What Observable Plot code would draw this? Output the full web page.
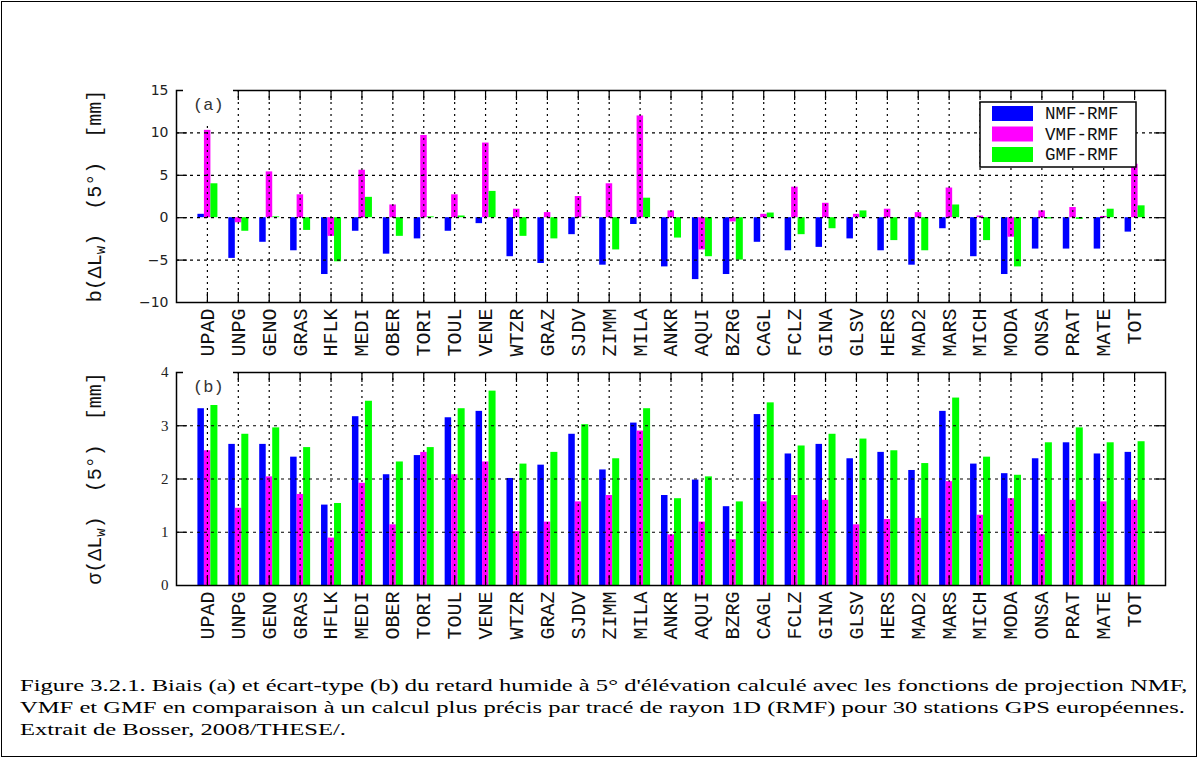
<!DOCTYPE html>
<html><head><meta charset="utf-8">
<script src="https://cdn.jsdelivr.net/npm/d3@7"></script>
<script src="https://cdn.jsdelivr.net/npm/@observablehq/plot@0.6"></script>
<style>
body{margin:0;background:#fff;}
#fig{position:relative;width:1200px;height:760px;overflow:hidden;background:#fff;}
#border{position:absolute;left:1px;top:1px;width:1196px;height:756px;border:1.5px solid #000;box-sizing:border-box;}
.abs{position:absolute;left:0;}
</style></head><body><div id="fig"><div id="border"></div></div>
<script>
// ---- data ----
const stations = ["UPAD","UNPG","GENO","GRAS","HFLK","MEDI","OBER","TORI","TOUL","VENE","WTZR","GRAZ","SJDV","ZIMM","MILA","ANKR","AQUI","BZRG","CAGL","FCLZ","GINA","GLSV","HERS","MAD2","MARS","MICH","MODA","ONSA","PRAT","MATE","TOT"];
const seriesNames = ["NMF-RMF","VMF-RMF","GMF-RMF"];
const seriesColors = ["#0000ff","#ff00ff","#00ff00"];
// (a) bias b(ΔLw) at 5°, mm
const biasNMF = [0.4,-4.8,-2.9,-3.9,-6.7,-1.6,-4.3,-2.5,-1.6,-0.7,-4.6,-5.4,-2.0,-5.6,-0.8,-5.8,-7.3,-6.7,-2.9,-3.9,-3.5,-2.5,-3.9,-5.6,-1.3,-4.6,-6.7,-3.7,-3.7,-3.7,-1.7];
const biasVMF = [10.3,-0.6,5.4,2.7,-2.2,5.6,1.5,9.7,2.7,8.8,1.0,0.6,2.5,4.0,12.0,0.8,-3.8,-0.5,0.4,3.6,1.7,0.4,1.0,0.6,3.5,0.2,-2.3,0.8,1.2,0.15,6.3];
const biasGMF = [4.0,-1.6,0.1,-1.5,-5.2,2.4,-2.2,0.1,0.2,3.1,-2.2,-2.5,0.05,-3.8,2.3,-2.4,-4.6,-5.0,0.55,-2.0,-1.3,0.8,-2.7,-3.9,1.5,-2.7,-5.8,-0.15,-0.2,1.0,1.4];
// (b) standard deviation σ(ΔLw) at 5°, mm
const sigNMF = [3.32,2.65,2.65,2.41,1.51,3.17,2.08,2.44,3.15,3.27,2.01,2.26,2.84,2.17,3.05,1.69,1.98,1.48,3.21,2.47,2.65,2.38,2.50,2.16,3.27,2.28,2.10,2.38,2.68,2.47,2.50];
const sigVMF = [2.53,1.45,2.04,1.71,0.89,1.92,1.14,2.50,2.08,2.32,1.01,1.19,1.57,1.69,2.90,0.95,1.19,0.86,1.57,1.69,1.60,1.14,1.24,1.26,1.95,1.32,1.63,0.95,1.60,1.57,1.60];
const sigGMF = [3.43,2.84,2.96,2.59,1.54,3.46,2.32,2.59,3.32,3.65,2.28,2.50,3.02,2.38,3.32,1.63,2.04,1.57,3.43,2.62,2.84,2.75,2.53,2.29,3.52,2.41,2.07,2.68,2.96,2.68,2.70];
const biasTicks = [-10,-5,0,5,10,15];
const sigTicks = [0,1,2,3,4];
const captionLines = [
  "Figure 3.2.1. Biais (a) et écart-type (b) du retard humide à 5° d'élévation calculé avec les fonctions de projection NMF,",
  "VMF et GMF en comparaison à un calcul plus précis par tracé de rayon 1D (RMF) pour 30 stations GPS européennes.",
  "Extrait de Bosser, 2008/THESE/."
];

// ---- layout ----
const W = 1200, ML = 176, MR = 35;
const frameW = W - ML - MR;
const pxPerUnit = frameW / 32;
const barEdges = [-9.5, -3, 3.5, 10.5];
const idx = stations.map((_, i) => i);
const MONO = "Liberation Mono, DejaVu Sans Mono, monospace";
const fig = document.getElementById("fig");

function panel({values, yDomain, yTicks, height, mt, mb, top, tickFont, tickSize, tag, lead, legend}) {
  const rows = [];
  values.forEach((arr, s) => arr.forEach((v, i) => rows.push({i, s, v})));
  const frameH = height - mt - mb;
  const inner = yTicks.slice(1, -1);
  const svg = Plot.plot({
    width: W, height, marginLeft: ML, marginRight: MR, marginTop: mt, marginBottom: mb,
    style: {background: "transparent", overflow: "visible"},
    x: {type: "linear", domain: [-1, 31]},
    y: {domain: yDomain},
    color: {type: "ordinal", domain: [0, 1, 2], range: seriesColors},
    marks: [
      Plot.rect(rows, {
        x1: d => d.i + barEdges[d.s] / pxPerUnit,
        x2: d => d.i + barEdges[d.s + 1] / pxPerUnit,
        y1: 0, y2: "v", fill: "s"
      }),
      Plot.ruleX(idx, {x: d => d, stroke: "#000", strokeWidth: 1.2, strokeDasharray: "2,4"}),
      Plot.ruleY(inner, {y: d => d, stroke: "#000", strokeWidth: 1.2, strokeDasharray: "3,4"}),
      Plot.ruleX(idx, {x: d => d, stroke: "#000", strokeWidth: 1.2, insetBottom: frameH - 10}),
      Plot.ruleX(idx, {x: d => d, stroke: "#000", strokeWidth: 1.2, insetTop: frameH - 10}),
      Plot.ruleY(inner, {y: d => d, stroke: "#000", strokeWidth: 1.2, insetRight: frameW - 11}),
      Plot.ruleY(inner, {y: d => d, stroke: "#000", strokeWidth: 1.2, insetLeft: frameW - 11}),
      Plot.frame({stroke: "#000", strokeWidth: 1.5}),
      Plot.axisY({ticks: yTicks, tickFormat: d3.format("~f"), tickSize: 0, tickPadding: 8, label: null,
        fontFamily: tickFont, fontSize: tickSize, fill: "#222"}),
      Plot.axisX({ticks: idx, tickFormat: i => stations[i], tickRotate: -90, tickSize: 0,
        tickPadding: 6, label: null, fontFamily: MONO, fontSize: 20, fill: "#111"})
    ]
  });
  svg.classList.add("abs");
  svg.style.top = top + "px";
  const g = d3.select(svg);
  // panel tag with white box
  g.append("rect").attr("x", 183).attr("y", mt - 3).attr("width", 50).attr("height", 36).attr("fill", "#fff");
  g.append("text").attr("x", 193).attr("y", mt + 20).attr("text-anchor", "start")
    .attr("font-family", MONO).attr("font-size", 17).attr("fill", "#333").text(tag);
  // y-axis title
  const yl = g.append("text")
    .attr("transform", `translate(95,${mt + frameH / 2}) rotate(-90)`)
    .attr("text-anchor", "middle").attr("dominant-baseline", "central")
    .attr("font-family", MONO).attr("font-size", 20).attr("fill", "#111")
    .attr("xml:space", "preserve").style("white-space", "pre");
  yl.append("tspan").text(lead + "(ΔL");
  yl.append("tspan").attr("dy", 6).attr("font-size", 14).text("w");
  yl.append("tspan").attr("dy", -6).text(")  (5°)  [mm]");
  if (legend) {
    const lg = g.append("g").attr("text-anchor", "start");
    lg.append("rect").attr("x", 980).attr("y", 102).attr("width", 156).attr("height", 65)
      .attr("fill", "#fff").attr("stroke", "#000").attr("stroke-width", 1.5);
    seriesNames.forEach((name, k) => {
      const y0 = 106 + k * 20.5;
      lg.append("rect").attr("x", 992).attr("y", y0).attr("width", 41).attr("height", 15).attr("fill", seriesColors[k]);
      lg.append("text").attr("x", 1045).attr("y", y0 + 13).attr("text-anchor", "start")
        .attr("font-family", MONO).attr("font-size", 17.5).attr("fill", "#111").text(name);
    });
  }
  fig.appendChild(svg);
}

panel({values: [biasNMF, biasVMF, biasGMF], yDomain: [-10, 15], yTicks: biasTicks,
  height: 365, mt: 90, mb: 63, top: 0, tickFont: "DejaVu Sans", tickSize: 14, tag: "(a)", lead: "b", legend: true});
panel({values: [sigNMF, sigVMF, sigGMF], yDomain: [0, 4], yTicks: sigTicks,
  height: 285, mt: 7, mb: 65, top: 365, tickFont: "Liberation Serif", tickSize: 15, tag: "(b)", lead: "σ", legend: false});

// caption
const cap = d3.create("svg").attr("width", W).attr("height", 100).attr("class", "abs").style("top", "655px");
fig.appendChild(cap.node());
const cg = cap.append("g");
const texts = captionLines.map((t, k) => cg.append("text").attr("x", 0).attr("y", 36 + k * 22)
  .attr("font-family", "Liberation Serif, Times New Roman, serif").attr("font-size", 17).attr("fill", "#000").text(t));
const natural = texts[0].node().getComputedTextLength();
const f = 1168 / natural;
cg.attr("transform", `translate(20,0) scale(${f},1)`);
</script></body></html>
